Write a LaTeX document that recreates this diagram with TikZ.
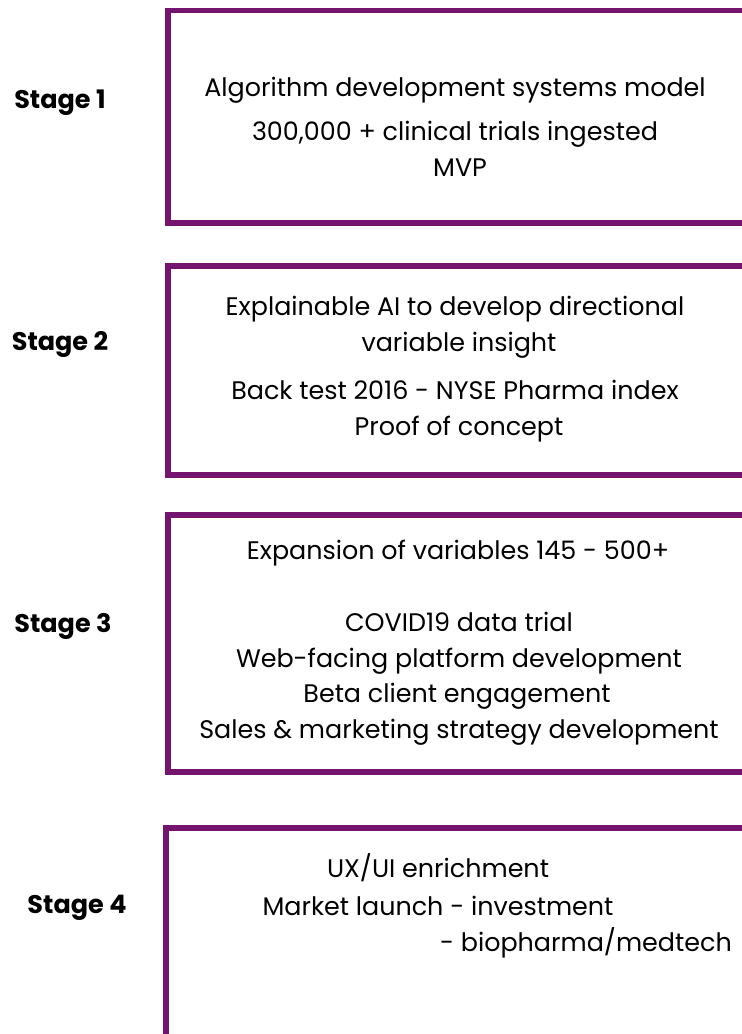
\documentclass[tikz,border=0pt]{standalone}
\usepackage{fontspec}
\setmainfont{Poppins}
\definecolor{plum}{RGB}{116,20,110}

\begin{document}
\begin{tikzpicture}[x=1pt,y=-1pt,
  stagebox/.style={draw=plum,line width=5.5pt},
  stagename/.style={font=\fontsize{25.5}{30}\selectfont\bfseries,anchor=base},
  item/.style={font=\fontsize{25.4}{30}\selectfont,anchor=base}]
\useasboundingbox (0,0) rectangle (742,1034);
% open frames, cut off by the page edge
\draw[stagebox] (745,10.5) -| (168,223) -- (745,223);
\draw[stagebox] (745,266) -| (168,475) -- (745,475);
\draw[stagebox] (745,515) -| (168,772) -- (745,772);
\draw[stagebox] (745,828) -| (166,1040);
% stage names
\node[stagename] (s1) at (60,108) {Stage 1};
\node[stagename] (s2) at (60,350) {Stage 2};
\node[stagename] (s3) at (63,632) {Stage 3};
\node[stagename] (s4) at (77,913) {Stage 4};
% stage 1
\node[item] (a1) at (455,96)  {Algorithm development systems model};
\node[item] (a2) at (455,140) {300,000 + clinical trials ingested};
\node[item] (a3) at (460,176) {MVP};
% stage 2
\node[item] (b1) at (455,315) {Explainable AI to develop directional};
\node[item] (b2) at (459,351) {variable insight};
\node[item] (b3) at (455,399) {Back test 2016 - NYSE Pharma index};
\node[item] (b4) at (459,435) {Proof of concept};
% stage 3
\node[item] (c1) at (458,559) {Expansion of variables 145 - 500+};
\node[item] (c2) at (459,631) {COVID19 data trial};
\node[item] (c3) at (459,667) {Web-facing platform development};
\node[item] (c4) at (457,702) {Beta client engagement};
\node[item] (c5) at (459,738) {Sales \& marketing strategy development};
% stage 4
\node[item] (d1) at (438,877) {UX/UI enrichment};
\node[item] (d2) at (438,915) {Market launch - investment};
\node[item,anchor=base east,inner sep=0pt] (d3) at (732,951) {- biopharma/medtech};
\end{tikzpicture}
\end{document}
